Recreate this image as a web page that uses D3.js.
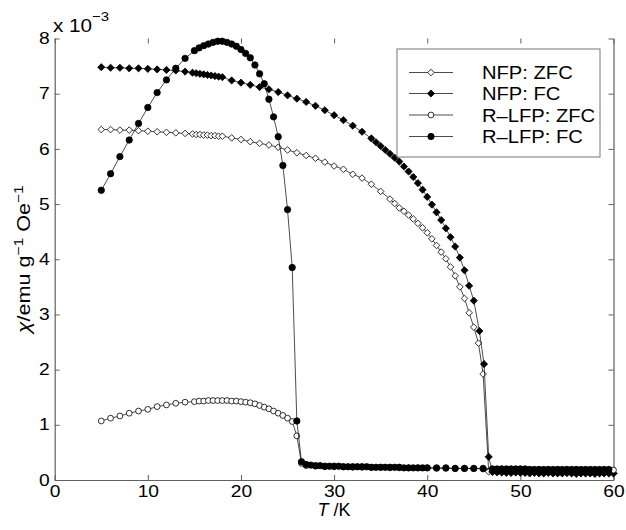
<!DOCTYPE html>
<html><head><meta charset="utf-8">
<script src="https://cdn.jsdelivr.net/npm/d3@7/dist/d3.min.js"></script>
<style>body{margin:0;background:#fff}svg{display:block}</style>
</head><body>
<svg id="c" width="626" height="530"></svg>
<script>
// ---- data ----
const seriesNames = ["NFP: ZFC", "NFP: FC", "R\u2013LFP: ZFC", "R\u2013LFP: FC"];
const xTicks = [0, 10, 20, 30, 40, 50, 60];
const yTicks = [0, 1, 2, 3, 4, 5, 6, 7, 8];

const T_NFP_ZFC = [5,6,7,8,9,10,11,12,13,14,14.8,15.2,15.6,16,16.4,16.8,17.2,17.6,18,
  19,20,21,22,23,24,25,26,27,28,29,30,31,32,33,34,35,36,
  36.5,37,37.5,38,38.5,39,39.5,40,40.5,41,41.5,42,42.5,43,43.5,44,44.5,45,45.5,46,46.6,
  47,47.5,48,48.5,49,49.5,50,50.5,51,51.5,52,52.5,53,53.5,54,54.5,55,55.5,56,56.5,57,57.5,58,58.5,59,59.5,60];
const V_NFP_ZFC = [6.35,6.35,6.34,6.34,6.33,6.32,6.31,6.30,6.29,6.28,
  6.27,6.26,6.26,6.25,6.25,6.24,6.24,6.23,6.23,
  6.20,6.17,6.13,6.10,6.07,6.03,5.98,5.93,5.88,5.83,5.76,5.69,5.63,5.54,5.47,5.36,5.23,5.09,
  5.01,4.93,4.87,4.80,4.73,4.65,4.57,4.48,4.37,4.25,4.13,4.01,3.86,3.70,3.50,3.29,3.03,2.77,2.48,1.92,0.15,
  0.14,0.14,0.13,0.14,0.13,0.13,0.14,0.13,0.12,0.13,0.13,0.12,0.13,0.12,0.12,0.13,0.12,0.12,0.13,0.12,0.12,0.12,0.13,0.12,0.12,0.12,0.12];

const T_NFP_FC = [5,6,7,8,9,10,11,12,13,14,14.8,15.2,15.6,16,16.4,16.8,17.2,17.6,18,
  19,20,21,22,23,24,25,26,27,28,29,30,31,32,33,34,
  34.5,35,35.5,36,36.5,37,37.5,38,38.5,39,39.5,40,40.5,41,41.5,42,42.5,43,43.5,44,44.5,
  45,45.6,46.1,46.6,
  47,47.5,48,48.5,49,49.5,50,50.5,51,51.5,52,52.5,53,53.5,54,54.5,55,55.5,56,56.5,57,57.5,58,58.5,59,59.5,60];
const V_NFP_FC = [7.48,7.47,7.47,7.46,7.46,7.45,7.44,7.43,7.42,7.40,
  7.38,7.37,7.36,7.35,7.34,7.33,7.32,7.31,7.30,
  7.24,7.20,7.16,7.12,7.08,7.03,6.97,6.91,6.85,6.78,6.70,6.61,6.52,6.42,6.31,6.19,
  6.12,6.05,5.98,5.91,5.84,5.77,5.68,5.59,5.49,5.38,5.26,5.13,4.99,4.85,4.71,4.56,4.40,4.23,4.03,3.80,3.52,
  3.25,2.70,2.10,0.42,
  0.15,0.14,0.14,0.13,0.13,0.14,0.13,0.13,0.12,0.13,0.12,0.12,0.13,0.12,0.12,0.12,0.13,0.12,0.11,0.12,0.12,0.12,0.11,0.12,0.12,0.12,0.12];

const T_RLFP_ZFC = [5,6,7,8,9,10,11,12,13,14,
  15,15.5,16,16.5,17,17.5,18,18.5,19,19.5,20,20.5,21,21.5,22,22.5,23,23.5,24,24.5,25,25.5,26,26.5,
  27,28,29,30,31,32,33,34,35,36,37,38,39,40,41,42,43,44,45,46,47,48,49,50,51,52,53,54,55,56,57,58,59,60];
const V_RLFP_ZFC = [1.07,1.12,1.16,1.21,1.25,1.28,1.33,1.36,1.39,1.41,
  1.42,1.43,1.43,1.44,1.44,1.44,1.44,1.44,1.43,1.43,1.42,1.41,1.40,1.38,1.35,1.32,1.29,1.25,1.21,1.17,1.12,1.06,0.80,0.30,
  0.26,0.25,0.24,0.24,0.24,0.23,0.23,0.23,0.23,0.22,0.22,0.22,0.22,0.22,0.21,0.21,0.21,0.21,0.21,0.20,0.20,0.20,0.20,0.20,0.19,0.19,0.19,0.19,0.19,0.19,0.18,0.18,0.18,0.18];

const T_RLFP_FC = [5,6,7,8,9,10,11,12,13,14,
  15,15.5,16,16.5,17,17.5,18,18.5,19,19.5,20,20.5,21,21.5,22,22.5,23,23.5,24,24.5,25,25.5,26,26.5,
  27,27.5,28,28.5,29,29.5,30,30.5,31,31.5,32,32.5,33,33.5,34,34.5,35,35.5,36,36.5,37,37.5,38,38.5,39,39.5,40,
  41,42,43,44,45,46,
  47,47.5,48,48.5,49,49.5,50,50.5,51,51.5,52,52.5,53,53.5,54,54.5,55,55.5,56,56.5,57,57.5,58,58.5,59,59.5];
const V_RLFP_FC = [5.25,5.55,5.86,6.16,6.46,6.75,7.02,7.25,7.46,7.64,
  7.78,7.83,7.87,7.90,7.93,7.95,7.95,7.93,7.90,7.86,7.80,7.73,7.65,7.52,7.36,7.18,6.90,6.58,6.22,5.70,4.90,3.85,1.07,0.33,
  0.28,0.27,0.26,0.26,0.25,0.25,0.25,0.25,0.24,0.24,0.24,0.24,0.24,0.24,0.23,0.23,0.23,0.23,0.23,0.23,0.23,0.22,0.22,0.22,0.22,0.22,0.22,
  0.22,0.22,0.21,0.21,0.21,0.21,
  0.20,0.20,0.20,0.20,0.20,0.20,0.20,0.20,0.19,0.19,0.19,0.19,0.19,0.19,0.19,0.19,0.19,0.19,0.19,0.19,0.19,0.19,0.19,0.19,0.19,0.19];

// ---- setup ----
const series = [
  {name: seriesNames[0], T: T_NFP_ZFC, V: V_NFP_ZFC, shape: "diamond", fill: "#fff"},
  {name: seriesNames[1], T: T_NFP_FC, V: V_NFP_FC, shape: "diamond", fill: "#000"},
  {name: seriesNames[2], T: T_RLFP_ZFC, V: V_RLFP_ZFC, shape: "circle", fill: "#fff"},
  {name: seriesNames[3], T: T_RLFP_FC, V: V_RLFP_FC, shape: "circle", fill: "#000"}
];

const svg = d3.select("#c");
const FONT = "'Liberation Sans', Arial, Helvetica, sans-serif";
const L = 54.7, R = 613.5, TOP = 38.5, BOT = 480;
const x = d3.scaleLinear().domain([0, 60]).range([L, R]);
const y = d3.scaleLinear().domain([0, 8]).range([BOT, TOP]);
const axisColor = "#606060";

function stretch(sel, f) {
  sel.each(function () {
    const l = this.getComputedTextLength();
    this.setAttribute("textLength", (l * f).toFixed(2));
    this.setAttribute("lengthAdjust", "spacingAndGlyphs");
  });
}

// axes
const gx = svg.append("g").attr("transform", `translate(0,${BOT})`)
  .call(d3.axisBottom(x).tickValues(xTicks).tickSizeInner(-5).tickSizeOuter(0).tickPadding(5.5));
const gy = svg.append("g").attr("transform", `translate(${L},0)`)
  .call(d3.axisLeft(y).tickValues(yTicks).tickSizeInner(-5).tickSizeOuter(0).tickPadding(5));
const gt = svg.append("g").attr("transform", `translate(0,${TOP})`)
  .call(d3.axisTop(x).tickValues(xTicks).tickSizeInner(-5).tickSizeOuter(0).tickFormat(""));
const gr = svg.append("g").attr("transform", `translate(${R},0)`)
  .call(d3.axisRight(y).tickValues(yTicks).tickSizeInner(-5).tickSizeOuter(0).tickFormat(""));
gt.select(".domain").remove();
[gx, gy, gt, gr].forEach(g => {
  g.selectAll(".domain").attr("stroke", axisColor).attr("stroke-width", 1.2);
  g.selectAll(".tick line").attr("stroke", axisColor).attr("stroke-width", 1);
  g.selectAll("text").attr("fill", "#000").style("font-family", FONT).style("font-size", "16px");
});
stretch(gx.selectAll("text"), 1.2);
stretch(gy.selectAll("text"), 1.2);

// exponent label
const ex = svg.append("text").attr("x", 53).attr("y", 32)
  .style("font-family", FONT).style("font-size", "18px").attr("fill", "#000");
ex.append("tspan").text("x 10");
ex.append("tspan").attr("dy", -11).style("font-size", "13px").text("\u22123");
stretch(ex, 1.15);

// axis labels
const xl = svg.append("text").attr("x", (L + R) / 2).attr("y", 516).attr("text-anchor", "middle")
  .style("font-family", FONT).style("font-size", "18px").attr("fill", "#000");
xl.append("tspan").style("font-style", "italic").text("T");
xl.append("tspan").text(" /K");

const yl = svg.append("text").attr("transform", `translate(30,${(TOP + BOT) / 2}) rotate(-90)`)
  .attr("text-anchor", "middle")
  .style("font-family", FONT).style("font-size", "18px").attr("fill", "#000");
yl.append("tspan").style("font-style", "italic").text("\u03c7");
yl.append("tspan").text("/emu g");
yl.append("tspan").attr("dy", -7).style("font-size", "13px").text("\u22121");
yl.append("tspan").attr("dy", 7).text(" Oe");
yl.append("tspan").attr("dy", -7).style("font-size", "13px").text("\u22121");
yl.attr("textLength", 148).attr("lengthAdjust", "spacingAndGlyphs");

// markers
function markerPath(shape, filled) {
  if (shape === "diamond") { const r = filled ? 3.6 : 3.3; return `M0,${-r}L${r},0L0,${r}L${-r},0Z`; }
  const r = filled ? 3.2 : 2.9;
  return d3.symbol(d3.symbolCircle, Math.PI * r * r)();
}

const line = d3.line().x(d => x(d[0])).y(d => y(d[1]));
series.forEach(s => {
  const pts = s.T.map((t, i) => [t, s.V[i]]);
  const filled = s.fill === "#000";
  const g = svg.append("g");
  g.append("path").datum(pts).attr("d", line).attr("fill", "none")
    .attr("stroke", "#000").attr("stroke-width", 0.7);
  g.selectAll("path.m").data(pts).enter().append("path").attr("class", "m")
    .attr("d", markerPath(s.shape, filled))
    .attr("transform", d => `translate(${x(d[0])},${y(d[1])})`)
    .attr("fill", s.fill).attr("stroke", "#000").attr("stroke-width", 0.8);
});

// legend
const lg = svg.append("g");
lg.append("rect").attr("x", 397).attr("y", 49).attr("width", 203).attr("height", 108)
  .attr("fill", "#fff").attr("stroke", "#777").attr("stroke-width", 1);
const rowY = [72.5, 93.5, 115, 136.5];
series.forEach((s, i) => {
  const yy = rowY[i];
  lg.append("line").attr("x1", 409).attr("x2", 453).attr("y1", yy).attr("y2", yy)
    .attr("stroke", "#000").attr("stroke-width", 0.7);
  lg.append("path").attr("d", markerPath(s.shape, s.fill === "#000")).attr("transform", `translate(431,${yy})`)
    .attr("fill", s.fill).attr("stroke", "#000").attr("stroke-width", 0.8);
  const t = lg.append("text").attr("x", 482).attr("y", yy + 6.5)
    .style("font-family", FONT).style("font-size", "18px").attr("fill", "#000").text(s.name);
  stretch(t, 1.12);
});
</script>
</body></html>
